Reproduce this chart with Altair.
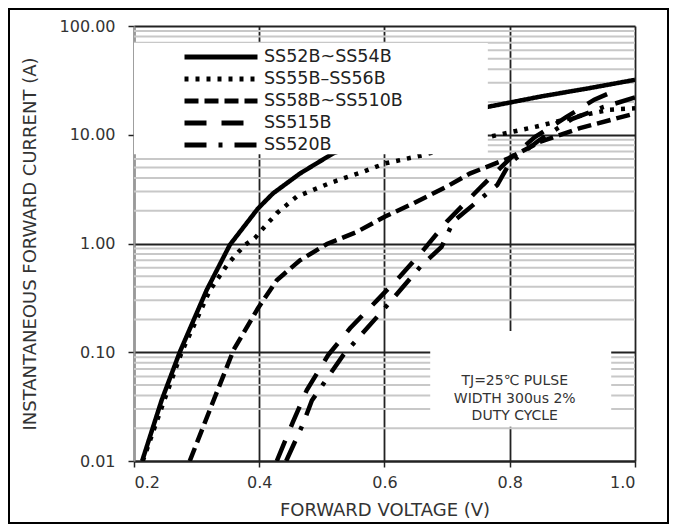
import altair as alt
import pandas as pd

FONT = "DejaVu Sans"

series_names = ["SS52B~SS54B", "SS55B–SS56B", "SS58B~SS510B", "SS515B", "SS520B"]
dash_styles = [[1, 0], [4, 7], [14, 6], [22, 15], [22, 12, 4, 12]]

v_ss52 = [0.213, 0.244, 0.273, 0.316, 0.353, 0.398, 0.422, 0.465, 0.518, 0.60, 0.70, 0.766, 0.85, 0.93, 1.0]
i_ss52 = [0.01, 0.036, 0.10, 0.373, 0.97, 2.1, 2.89, 4.4, 6.75, 10.0, 14.5, 18.1, 22.5, 27.0, 32.0]

v_ss55 = [0.214, 0.245, 0.276, 0.30, 0.321, 0.35, 0.377, 0.393, 0.404, 0.428, 0.46, 0.513, 0.566, 0.601, 0.662, 0.768, 0.843, 0.907, 0.96, 1.0]
i_ss55 = [0.01, 0.032, 0.10, 0.20, 0.37, 0.65, 0.97, 1.12, 1.33, 1.9, 2.7, 3.6, 4.57, 5.46, 6.5, 9.6, 11.9, 14.7, 17.0, 17.5]

v_ss58 = [0.289, 0.327, 0.359, 0.398, 0.428, 0.465, 0.508, 0.556, 0.601, 0.646, 0.699, 0.737, 0.798, 0.848, 0.912, 1.0]
i_ss58 = [0.01, 0.036, 0.105, 0.254, 0.46, 0.70, 0.99, 1.28, 1.77, 2.34, 3.33, 4.42, 6.07, 8.6, 11.5, 15.7]

v_ss515 = [0.428, 0.454, 0.476, 0.51, 0.545, 0.588, 0.625, 0.662, 0.70, 0.757, 0.80, 0.84, 0.89, 0.935, 0.965]
i_ss515 = [0.01, 0.023, 0.045, 0.094, 0.166, 0.30, 0.50, 0.87, 1.6, 3.45, 6.0, 9.5, 14.5, 21.0, 25.0]

v_ss520 = [0.443, 0.47, 0.484, 0.534, 0.598, 0.657, 0.691, 0.71, 0.78, 0.80, 0.848, 0.90, 0.95, 1.0]
i_ss520 = [0.01, 0.022, 0.036, 0.094, 0.245, 0.61, 0.93, 1.6, 3.45, 5.5, 9.0, 14.0, 18.0, 22.0]

x_ticks = [0.2, 0.4, 0.6, 0.8, 1.0]
y_ticks = [0.01, 0.1, 1, 10, 100]
y_minor = [0.02, 0.03, 0.04, 0.05, 0.06, 0.07, 0.08, 0.09,
           0.2, 0.3, 0.4, 0.5, 0.6, 0.7, 0.8, 0.9,
           2, 3, 4, 5, 6, 7, 8, 9,
           20, 30, 40, 50, 60, 70, 80, 90]

note_lines = "TJ=25℃ PULSE\nWIDTH 300us 2%\nDUTY CYCLE"

# white boxes (data units)
legend_box = {"x": 0.2, "x2": 0.765, "y": 6.6, "y2": 69.8}
note_box = {"x": 0.673, "x2": 0.962, "y": 0.0206, "y2": 0.157}
note_pos = {"x": 0.808, "y": 0.0544}

W, H = 501, 435

rows = []
for name, vs, cs in zip(series_names,
                        [v_ss52, v_ss55, v_ss58, v_ss515, v_ss520],
                        [i_ss52, i_ss55, i_ss58, i_ss515, i_ss520]):
    for k, (v, c) in enumerate(zip(vs, cs)):
        rows.append({"series": name, "v": v, "i": c, "order": k})
curves = pd.DataFrame(rows)

xscale = alt.Scale(domain=[0.2, 1.0], nice=False, zero=False)
yscale = alt.Scale(type="log", domain=[0.01, 100], nice=False)

x_axis = alt.Axis(values=x_ticks, format=".1f", grid=True, gridColor="#222", gridWidth=1.8,
                  domainColor="#222", domainWidth=2, tickColor="#222", tickSize=6, tickWidth=1.5,
                  labelFont=FONT, labelFontSize=16, labelColor="#333", labelPadding=7,
                  title="FORWARD VOLTAGE (V)", titleFont=FONT, titleFontSize=18,
                  titleFontWeight="normal", titleColor="#333", titlePadding=11)
y_axis = alt.Axis(values=y_ticks, format=".2f", grid=True, gridColor="#222", gridWidth=1.8,
                  domainColor="#999", domainWidth=2, tickColor="#222", tickSize=6, tickWidth=1.5,
                  labelFont=FONT, labelFontSize=16, labelColor="#333", labelPadding=13,
                  title="INSTANTANEOUS FORWARD CURRENT (A)", titleFont=FONT, titleFontSize=18,
                  titleFontWeight="normal", titleColor="#333", titlePadding=20)

minor = alt.Chart(pd.DataFrame({"y": y_minor})).mark_rule(color="#c8c8c8", strokeWidth=2).encode(
    y=alt.Y("y:Q", scale=yscale, axis=y_axis)
)

lines = alt.Chart(curves).mark_line(color="black", strokeWidth=4.5, clip=True).encode(
    x=alt.X("v:Q", scale=xscale, axis=x_axis),
    y=alt.Y("i:Q", scale=yscale, axis=y_axis),
    order="order:Q",
    strokeDash=alt.StrokeDash(
        "series:N",
        scale=alt.Scale(domain=series_names, range=dash_styles),
        legend=alt.Legend(orient="none", legendX=48, legendY=20, symbolType="stroke",
                          symbolSize=5329, symbolStrokeWidth=5, symbolStrokeColor="black",
                          clipHeight=22, rowPadding=0, padding=0, labelFont=FONT,
                          labelFontSize=17.5, labelColor="#222", labelOffset=4, labelLimit=300,
                          title=None),
    ),
)

boxes = alt.Chart(pd.DataFrame([legend_box, note_box])).mark_rect(color="white").encode(
    x="x:Q", x2="x2:Q", y="y:Q", y2="y2:Q"
)

note = alt.Chart(pd.DataFrame([{"x": note_pos["x"], "y": note_pos["y"], "t": note_lines}])).mark_text(
    font=FONT, fontSize=14, color="#333", lineBreak="\n", lineHeight=17.5,
    align="center", baseline="middle"
).encode(x="x:Q", y="y:Q", text="t:N")

frame = alt.Chart(pd.DataFrame({"a": [0]})).mark_rect(
    fillOpacity=0, stroke="black", strokeWidth=2
).encode(x=alt.value(-125), x2=alt.value(534), y=alt.value(-17), y2=alt.value(497))

chart = alt.layer(minor, lines, boxes, note, frame).properties(
    width=W, height=H, padding=0
).configure_view(strokeWidth=0)

chart.save("out.html", embed_options={"renderer": "svg", "actions": False})
